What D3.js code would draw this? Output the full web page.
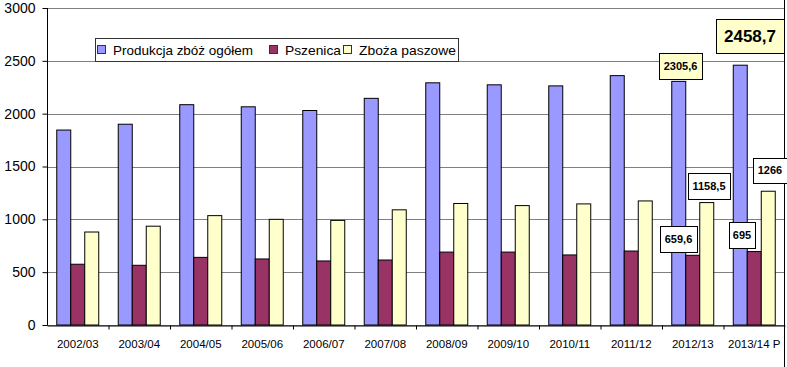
<!DOCTYPE html>
<html><head><meta charset="utf-8">
<script src="https://cdn.jsdelivr.net/npm/d3@7"></script>
<style>body{margin:0;background:#fff}svg{display:block;font-family:"Liberation Sans",Arial,sans-serif}</style>
</head><body><svg id="c" width="787" height="367"></svg>
<script>
const categories=["2002/03","2003/04","2004/05","2005/06","2006/07","2007/08","2008/09","2009/10","2010/11","2011/12","2012/13","2013/14 P"];
const seriesNames=["Produkcja zbóż ogółem","Pszenica","Zboża paszowe"];
const produkcja=[1845,1900,2085,2065,2030,2145,2292,2273,2263,2360,2305.6,2458.7];
const pszenica=[575,565,640,625,606,615,690,690,663,700,659.6,695];
const paszowe=[880,935,1035,1000,990,1090,1150,1130,1146,1174,1158.5,1266];
const yTicks=[0,500,1000,1500,2000,2500,3000];
const colors=["#9999ff","#993366","#ffffcc"];
const labels=[
 {text:"2305,6",fill:"#ffffcc",size:11,x:659,y:53,w:43,h:26},
 {text:"2458,7",fill:"#ffffcc",size:17,x:716,y:19,w:68,h:34},
 {text:"1158,5",fill:"#fff",size:11,x:688,y:173,w:42,h:26},
 {text:"659,6",fill:"#fff",size:11,x:660,y:226,w:37,h:26},
 {text:"695",fill:"#fff",size:11,x:729,y:222,w:26,h:26},
 {text:"1266",fill:"#fff",size:11,x:753,y:158,w:34,h:25}
];
const data=[produkcja,pszenica,paszowe];
const svg=d3.select("#c");
const L=47,R=785,T=8,B=325;
const x=d3.scaleBand().domain(categories).range([L,R]);
const y=d3.scaleLinear().domain([0,3000]).range([B,T]);
const xs=d3.scaleBand().domain([0,1,2]).range([0,42]);
svg.append("g").selectAll("line").data(yTicks).join("line")
 .attr("x1",L).attr("x2",R).attr("y1",d=>Math.round(y(d))+0.5).attr("y2",d=>Math.round(y(d))+0.5)
 .attr("stroke","#808080").attr("stroke-width",1);
categories.forEach((c,i)=>{
 const off=x(c)+(x.bandwidth()-42)/2;
 data.forEach((arr,s)=>{
  svg.append("rect").attr("x",off+xs(s)).attr("y",y(arr[i])).attr("width",xs.bandwidth()).attr("height",B-y(arr[i]))
   .attr("fill",colors[s]).attr("stroke","#000").attr("stroke-width",1);
 });
});
const ya=svg.append("g").attr("transform",`translate(${L+0.5},0)`).call(d3.axisLeft(y).tickValues(yTicks).tickSize(5).tickPadding(7).tickFormat(d3.format("d")));
ya.selectAll("text").attr("font-size",14).attr("fill","#000").attr("font-family","Liberation Sans, Arial");
ya.selectAll("line,path").attr("stroke","#000");
ya.select(".domain").attr("d",`M0,${T}V${B}`);
const xa=svg.append("g").attr("transform",`translate(0,${B+0.5})`).call(d3.axisBottom(x).tickSize(0).tickPadding(14));
xa.selectAll("text").attr("font-size",11.5).attr("fill","#000").attr("font-family","Liberation Sans, Arial");
xa.select(".domain").attr("stroke","#000");
xa.selectAll(".bt").data(categories.slice(1)).join("line").attr("x1",d=>x(d)+0.5).attr("x2",d=>x(d)+0.5).attr("y1",0).attr("y2",4).attr("stroke","#000");
svg.append("line").attr("x1",784.5).attr("x2",784.5).attr("y1",0).attr("y2",367).attr("stroke","#000");
const lg=svg.append("g");
lg.append("rect").attr("x",95.5).attr("y",38.5).attr("width",363).attr("height",23).attr("fill","#fff").attr("stroke","#333");
const lxs=[97,269,343];
const lw=[140,56,97];
seriesNames.forEach((n,s)=>{
 lg.append("rect").attr("x",lxs[s]+0.5).attr("y",45.5).attr("width",8).attr("height",8).attr("fill",colors[s]).attr("stroke","#333");
 lg.append("text").attr("x",lxs[s]+16).attr("y",54.5).attr("font-size",13).attr("textLength",lw[s]).attr("lengthAdjust","spacingAndGlyphs").text(n);
});
labels.forEach(l=>{
 const g=svg.append("g");
 g.append("rect").attr("x",l.x+0.5).attr("y",l.y+0.5).attr("width",l.w).attr("height",l.h).attr("fill",l.fill).attr("stroke","#000");
 g.append("text").attr("x",l.x+l.w/2).attr("y",l.y+l.h/2).attr("dy","0.36em").attr("text-anchor","middle").attr("font-weight","bold").attr("font-size",l.size).text(l.text);
});
</script></body></html>
